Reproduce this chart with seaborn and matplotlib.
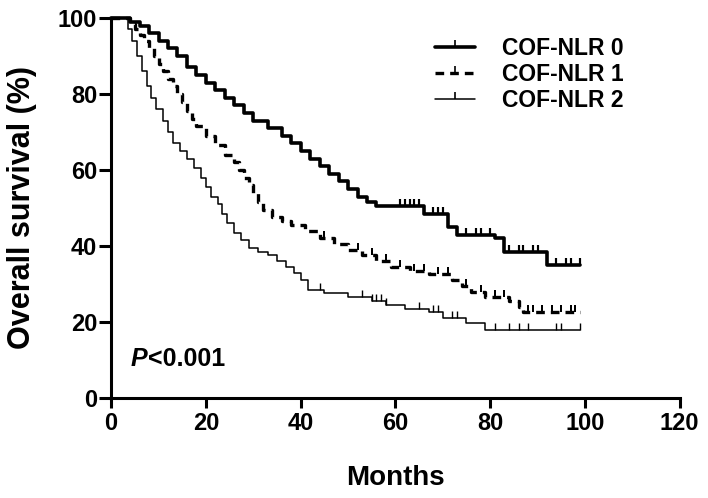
import matplotlib
matplotlib.use("Agg")
import matplotlib.pyplot as plt
from matplotlib.lines import Line2D
import numpy as np
import pandas as pd
import seaborn as sns

# Kaplan-Meier steps (months, % surviving)
nlr0_time = [0, 4, 6, 8, 10, 12, 14, 16, 18, 20, 22, 24, 26, 28, 30, 33, 36, 38, 40,
             42, 44, 46, 48, 50, 52, 54, 56, 66, 71, 73, 81, 83, 92, 99]
nlr0_surv = [100, 99, 98, 96, 94, 92, 90, 87, 85, 83, 81, 79, 77, 75, 73, 71, 69, 67, 65,
             63, 61, 59, 57, 55, 53, 51.5, 50.5, 48.5, 45, 43, 42, 38.5, 35, 35]
nlr0_cens = [61, 62, 63, 64, 65, 68, 69, 70, 75, 77, 78, 80, 84, 86, 87, 89, 90, 94, 96, 97, 99]

nlr1_time = [0, 4, 5, 6, 7, 8, 9, 10, 11, 12, 13, 14, 15, 16, 17, 18, 20, 22, 24, 26,
             27, 28, 29, 30, 31, 32, 34, 36, 38, 41, 44, 47, 50, 53, 56, 59, 63, 67, 72, 74,
             76, 79, 84, 86, 87, 99]
nlr1_surv = [100, 98.5, 97, 95.5, 94, 92, 90, 88, 86, 84, 82, 80, 78, 75.5, 73.5, 71.5, 69, 66.5, 64, 62,
             60, 58, 56, 54, 51.5, 49.5, 47.5, 46.5, 45.5, 44, 42, 40.5, 39, 37.5, 36, 34.5, 33.5, 32.5, 31, 29.5,
             28, 26.5, 25.5, 24, 22.5, 22.5]
nlr1_cens = [45, 52, 55, 58, 61, 64, 66, 69, 71, 75, 78, 81, 83, 88, 89, 91, 93, 95, 97, 98]

nlr2_time = [0, 3.5, 4.5, 5.5, 6.5, 7.5, 8.5, 9.5, 11, 12, 13, 14.5, 16, 17.5, 19, 20, 21, 22.5, 23.5, 24.5,
             26, 27.5, 29, 31, 33, 35, 37, 38.5, 40, 41.5, 45, 50, 55, 58, 62, 67, 70, 75, 79, 99]
nlr2_surv = [100, 97, 94, 90, 86, 82, 79, 76, 73, 70, 67, 65, 63, 60.5, 58, 55.5, 53, 51, 48.5, 46,
             43.5, 41.5, 39.5, 38.5, 37.5, 36, 34.5, 33, 31, 28.5, 27.5, 26.5, 25.5, 24.5, 23.5, 22.5, 21, 19.7, 18, 18]
nlr2_cens = [44, 53, 55, 56, 57, 58, 65, 68, 69, 72, 73, 81, 84, 86, 88, 94, 95, 99]

groups = ["COF-NLR 0", "COF-NLR 1", "COF-NLR 2"]
x_ticks = [0, 20, 40, 60, 80, 100, 120]
y_ticks = [0, 20, 40, 60, 80, 100]

sns.set_style("ticks")
plt.rcParams["font.family"] = ["Liberation Sans", "DejaVu Sans"]
plt.rcParams["font.weight"] = "bold"
for key in ("text.color", "axes.labelcolor", "xtick.color", "ytick.color", "axes.edgecolor"):
    plt.rcParams[key] = "black"

styles = {
    "COF-NLR 0": dict(lw=2.6, ls="-"),
    "COF-NLR 1": dict(lw=2.4, ls=(0, (2.6, 1.8))),
    "COF-NLR 2": dict(lw=1.1, ls="-"),
}

fig = plt.figure(figsize=(7.08, 4.98), dpi=100)
ax = fig.add_axes([0.157, 0.201, 0.803, 0.763])

series = [(nlr0_time, nlr0_surv, nlr0_cens),
          (nlr1_time, nlr1_surv, nlr1_cens),
          (nlr2_time, nlr2_surv, nlr2_cens)]

for name, (t, s, c) in zip(groups, series):
    st = styles[name]
    df = pd.DataFrame({"month": t, "surv": s})
    sns.lineplot(data=df, x="month", y="surv", ax=ax, color="black", lw=st["lw"],
                 linestyle=st["ls"], drawstyle="steps-post", estimator=None, sort=False,
                 clip_on=False)
    # censor marks sit on the step value at each censor time
    t_arr = np.asarray(t)
    s_arr = np.asarray(s)
    cy = s_arr[np.searchsorted(t_arr, c, side="right") - 1]
    ax.plot(c, cy, ls="none", marker=2, color="black", markersize=5,
            markeredgewidth=max(1.0, st["lw"] * 0.6), clip_on=False)

ax.set_xlim(0, 120)
ax.set_ylim(0, 100)
ax.set_xticks(x_ticks)
ax.set_yticks(y_ticks)
ax.tick_params(axis="both", direction="out", length=7, width=2.2, labelsize=17)
ax.tick_params(axis="y", length=9, pad=1)
ax.tick_params(axis="x", pad=3)
for lab in ax.get_xticklabels() + ax.get_yticklabels():
    lab.set_fontweight("bold")
sns.despine(ax=ax)
for sp in ("left", "bottom"):
    ax.spines[sp].set_linewidth(2.2)

ax.set_xlabel("Months", fontsize=20, fontweight="bold")
ax.set_ylabel("Overall survival (%)", fontsize=22, fontweight="bold")
ax.xaxis.set_label_coords(0.5, -0.176)
ax.yaxis.set_label_coords(-0.130, 0.5)

p_txt = ax.text(4.2, 7, "P", fontsize=18, fontweight="bold", style="italic",
                ha="left", va="bottom")
ax.annotate("<0.001", xy=(1, 0), xycoords=p_txt, fontsize=18, fontweight="bold",
            ha="left", va="bottom")

handles = [Line2D([], [], color="black", lw=styles[g]["lw"], linestyle=styles[g]["ls"],
                  marker=2, markersize=5, markeredgewidth=1.2) for g in groups]
leg = ax.legend(handles, groups, loc="upper left", bbox_to_anchor=(0.614, 0.926),
                bbox_transform=fig.transFigure, frameon=False, fontsize=16.5,
                handlelength=1.75, handletextpad=1.2, labelspacing=0.13,
                borderpad=0, borderaxespad=0, numpoints=1)
for txt in leg.get_texts():
    txt.set_fontweight("bold")

fig.savefig("out.png", dpi=100)
